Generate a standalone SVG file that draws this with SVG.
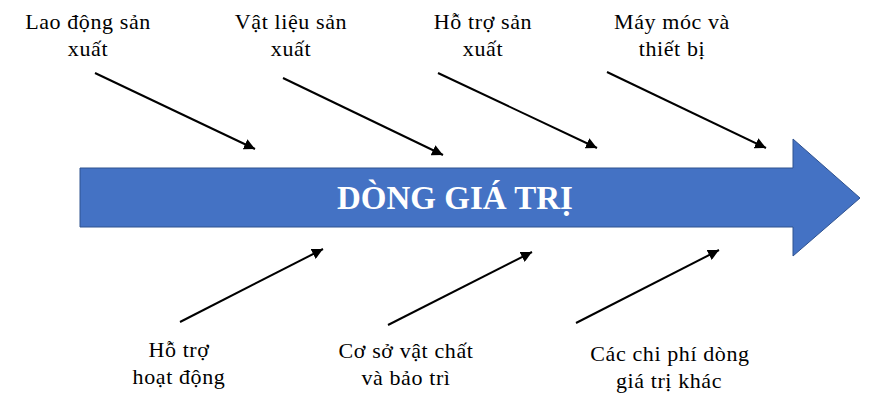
<svg xmlns="http://www.w3.org/2000/svg" width="869" height="406" viewBox="0 0 869 406">
<defs>
<marker id="ah" viewBox="0 0 10 10" refX="10" refY="5" markerWidth="5.5" markerHeight="5.5" markerUnits="strokeWidth" orient="auto">
<path d="M0,0 L10,5 L0,10 z" fill="#000"/>
</marker>
<style>
.lbl{font-family:'Liberation Serif',serif;font-size:22px;fill:#000;text-anchor:middle;letter-spacing:0.6px}
.ttl{font-family:'Liberation Serif',serif;font-size:33px;font-weight:bold;fill:#fff;text-anchor:middle}
.con{stroke:#000;stroke-width:2;fill:none;marker-end:url(#ah)}
</style>
</defs>
<rect width="869" height="406" fill="#fff"/>
<g id="spine">
<path d="M80,168 L793,168 L793,139 L860,198 L793,256 L793,227 L80,227 Z" fill="#4472C4" stroke="#2F528F" stroke-width="1"/>
<text class="ttl" x="455" y="209">DÒNG GIÁ TRỊ</text>
</g>
<g id="n-lao-dong" font-family="Liberation Serif"><text class="lbl" x="88" y="29">Lao động sản</text><text class="lbl" x="88" y="56">xuất</text></g>
<g id="n-vat-lieu" font-family="Liberation Serif"><text class="lbl" x="291" y="29">Vật liệu sản</text><text class="lbl" x="291" y="56">xuất</text></g>
<g id="n-ho-tro-sx" font-family="Liberation Serif"><text class="lbl" x="483" y="29">Hỗ trợ sản</text><text class="lbl" x="483" y="56">xuất</text></g>
<g id="n-may-moc" font-family="Liberation Serif"><text class="lbl" x="672" y="29">Máy móc và</text><text class="lbl" x="672" y="56">thiết bị</text></g>
<g id="n-ho-tro-hd" font-family="Liberation Serif"><text class="lbl" x="179" y="357">Hỗ trợ</text><text class="lbl" x="179" y="384">hoạt động</text></g>
<g id="n-co-so" font-family="Liberation Serif"><text class="lbl" x="406" y="358">Cơ sở vật chất</text><text class="lbl" x="406" y="385">và bảo trì</text></g>
<g id="n-chi-phi" font-family="Liberation Serif"><text class="lbl" x="670" y="361">Các chi phí dòng</text><text class="lbl" x="669" y="388">giá trị khác</text></g>
<g id="connectors">
<line class="con" x1="95" y1="73" x2="255" y2="149"/>
<line class="con" x1="283" y1="78" x2="443" y2="155"/>
<line class="con" x1="438" y1="73" x2="597" y2="148"/>
<line class="con" x1="607" y1="72" x2="766" y2="148"/>
<line class="con" x1="180" y1="322" x2="323" y2="249"/>
<line class="con" x1="388" y1="325" x2="532" y2="252"/>
<line class="con" x1="576" y1="323" x2="719" y2="250"/>
</g>
</svg>
